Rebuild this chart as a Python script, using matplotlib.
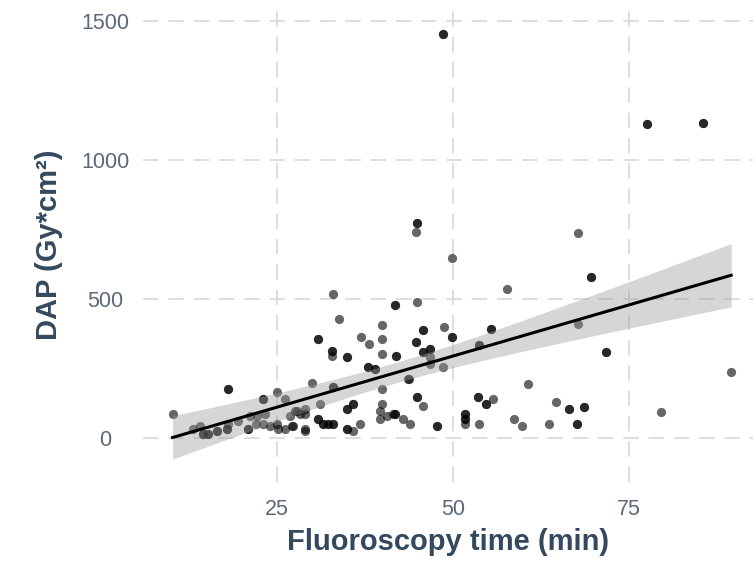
import numpy as np
import matplotlib
matplotlib.use("Agg")
import matplotlib.pyplot as plt

# fluoroscopy time (min) / DAP (Gy*cm2).
# The near-black dots are two observations drawn on top of each other.
dark_time = [18.0, 30.8, 32.8, 34.9, 41.8, 44.9, 45.7, 44.7, 49.9, 55.4,
             41.9, 37.9, 38.9, 45.7, 46.7, 53.7, 33.0, 44.9, 35.8, 34.9,
             41.8, 30.8, 31.5, 32.2, 33.0, 34.9, 47.7, 53.6, 54.7, 51.7,
             51.7, 66.5, 67.6, 68.6, 69.6, 71.7, 77.6, 85.5, 48.6, 23.0,
             14.5, 15.2, 17.9, 20.9, 16.5]
dark_dap = [176, 354, 311, 288, 476, 773, 385, 342, 363, 392,
            295, 255, 247, 309, 320, 333, 183, 147, 122, 101,
            86, 65, 50, 50, 50, 32, 40, 147, 119, 83,
            65, 101, 50, 108, 579, 306, 1126, 1133, 1453, 137,
            14, 11, 32, 32, 22]

grey_time = [10.2, 33.0, 33.8, 32.8, 30.0, 25.0, 26.1, 31.1, 44.7, 49.9,
             44.9, 36.9, 38.1, 39.9, 39.9, 39.9, 48.7, 46.7, 46.7, 48.6,
             57.7, 43.8, 39.9, 45.7, 39.9, 39.6, 39.6, 40.6, 41.5, 42.9,
             43.9, 29.0, 28.3, 29.0, 27.6, 29.0, 29.0, 27.1, 35.8, 36.8,
             43.6, 55.7, 51.7, 53.7, 58.7, 59.8, 63.6, 60.6, 64.6, 79.5,
             89.5, 67.8, 67.8, 13.1, 18.0, 19.5, 21.2, 22.2, 23.0, 23.3,
             25.0, 25.1, 26.1, 26.8, 27.3, 27.8, 14.1, 22.0, 24.0]
grey_dap = [83, 518, 428, 293, 196, 165, 139, 119, 741, 645,
            486, 363, 338, 403, 353, 299, 396, 291, 263, 255,
            536, 212, 173, 112, 119, 94, 65, 76, 83, 68,
            50, 101, 86, 83, 94, 32, 22, 40, 22, 47,
            209, 140, 47, 47, 68, 40, 50, 191, 126, 90,
            235, 734, 410, 29, 50, 58, 76, 76, 50, 83,
            50, 29, 29, 76, 40, 94, 40, 47, 40]

x_ticks = [25, 50, 75]
y_ticks = [0, 500, 1000, 1500]

label_col = "#34495e"
tick_col = "#5d6878"

time = np.array(grey_time + dark_time + dark_time, dtype=float)
dap = np.array(grey_dap + dark_dap + dark_dap, dtype=float)

# linear fit with 95% confidence band (like geom_smooth(method = "lm"))
n = len(time)
slope, intercept = np.polyfit(time, dap, 1)
resid = dap - (slope * time + intercept)
s = np.sqrt(np.sum(resid ** 2) / (n - 2))
sxx = np.sum((time - time.mean()) ** 2)
xs = np.linspace(time.min(), time.max(), 100)
fit = slope * xs + intercept
se = s * np.sqrt(1 / n + (xs - time.mean()) ** 2 / sxx)
t = 1.97

fig = plt.figure(figsize=(7.53, 5.74), dpi=100)
ax = fig.add_axes([143 / 753, 1 - 482 / 574, 610 / 753, 474 / 574])

ax.scatter(time, dap, s=44, color="black", alpha=0.6, linewidths=0, zorder=2)
ax.fill_between(xs, fit - t * se, fit + t * se, color="#999999",
                alpha=0.4, linewidth=0, zorder=3)
ax.plot(xs, fit, color="black", linewidth=2.2, zorder=4)

ax.set_xlim(6.0, 92.6)
ax.set_ylim(-160, 1545)
ax.set_xticks(x_ticks)
ax.set_yticks(y_ticks)
ax.grid(True, color="#dedede", linestyle=(0, (8, 5)), linewidth=1.4)
ax.set_axisbelow(True)
for sp in ax.spines.values():
    sp.set_visible(False)
ax.tick_params(length=0, labelsize=15.5, labelcolor=tick_col, pad=12)
for lab in ax.get_yticklabels():
    lab.set_horizontalalignment("center")
ax.tick_params(axis="y", pad=27)

ax.set_xlabel("Fluoroscopy time (min)", fontsize=21, fontweight="bold",
              color=label_col, family="Liberation Sans", labelpad=6)
ax.set_ylabel("DAP (Gy*cm²)", fontsize=21, fontweight="bold",
              color=label_col, family="Liberation Sans", labelpad=13)
for lab in ax.get_xticklabels() + ax.get_yticklabels():
    lab.set_family("Liberation Sans")

fig.savefig("out.png", dpi=100)
